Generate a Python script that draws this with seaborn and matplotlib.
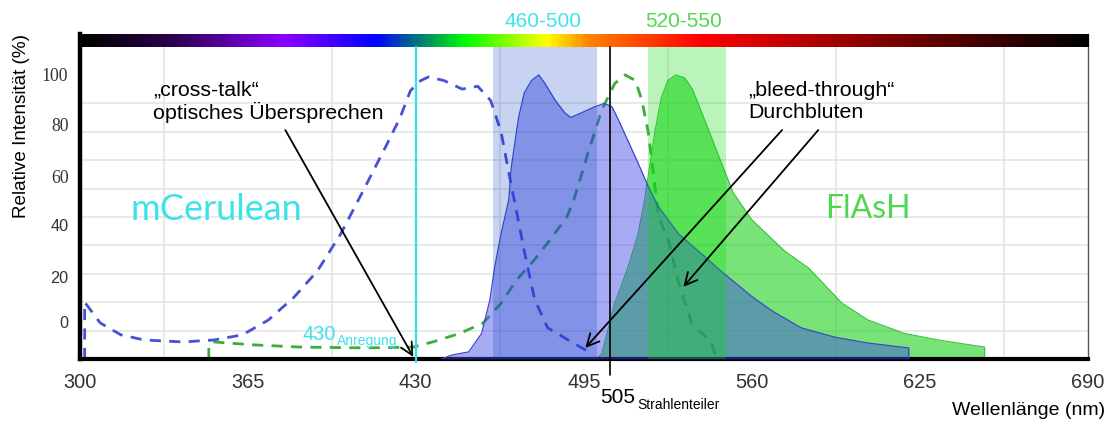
import numpy as np
import matplotlib
matplotlib.use('Agg')
import matplotlib.pyplot as plt
import seaborn as sns
from matplotlib.colors import LinearSegmentedColormap

# mCerulean Anregung (gestrichelt, blau)
ceru_ex_nm = [302, 302, 308, 316, 325, 340, 352, 363, 373, 383, 392, 401, 409, 418, 424, 428,
              432, 435, 441, 448, 454, 459, 463, 467, 469, 472, 476, 481, 489, 496, 497, 302]
ceru_ex = [0, 20, 12.7, 8.5, 6.7, 6, 6.7, 8.5, 13.7, 21.8, 31, 44, 58, 74, 85, 94.5,
           98, 99.3, 98, 95, 96, 91, 80, 61, 52, 38, 21, 11, 6.7, 3, 0, 0]

# FlAsH Anregung (gestrichelt, gruen)
flash_ex_nm = [350, 350, 352, 367, 385, 411, 429, 437, 447, 456, 463, 469, 476, 482, 488.5,
               491.5, 497, 502, 507, 511, 515, 517.5, 520, 522.5, 524, 528, 531.7, 536.7,
               544.5, 545.6, 545.6, 350]
flash_ex = [0, 5, 6, 5, 4.2, 3.9, 4.2, 6.1, 9, 12.6, 19.6, 27.8, 35, 42, 50,
            57, 73.6, 87.7, 97, 100, 98, 91, 79.6, 60.6, 50, 41, 26.8, 12.7,
            5.6, 2, 0, 0]

# mCerulean Emission (gefuellt)
ceru_em_nm = [440, 444, 450.5, 455.5, 458.7, 460.5, 463, 466, 467, 469.8, 472, 474.8, 477.6,
              480, 484, 487.7, 490, 494, 499, 503, 506, 508.5, 512, 516, 520, 524, 531.7,
              540.6, 548, 560, 567.7, 579, 592, 605, 620.7, 620.7]
ceru_em = [0, 1.4, 2.5, 9, 20.8, 32, 44, 56, 67.6, 85, 93.7, 98, 100,
           97, 91, 86.6, 85, 86.6, 88.7, 90, 88.7, 84, 77, 69, 60.6, 53.5, 44,
           37, 31, 22, 17, 11, 7.7, 5.6, 3.9, 0]

# FlAsH Emission (gefuellt)
flash_em_nm = [500, 502, 507, 512, 516, 518.5, 520.5, 522.5, 525, 527.5, 530.5, 534, 537,
               542.7, 547.8, 552.8, 560, 572.7, 582, 594.8, 605, 619, 632, 650, 650]
flash_em = [0, 2, 19.7, 32, 44, 56, 68, 80, 92, 98, 100, 99, 95,
            82, 70, 58.5, 49, 38, 32, 19.7, 13.7, 9, 6.7, 4.2, 0]

# Filterbereiche, Anregung, Strahlenteiler
blue_band = (460, 500)
green_band = (520, 550)
excitation_nm = 430
splitter_nm = 505

x_ticks = [300, 365, 430, 495, 560, 625, 690]
y_tick_pos = [13, 28.9, 47.2, 64.4, 82.4, 100]
y_tick_labels = ['0', '20', '40', '60', '80', '100']

# Farbverlauf des sichtbaren Spektrums
spec_nm = [300, 336, 378, 414, 432, 449, 480, 497, 540, 610, 690]
spec_rgb = [(0, 0, 0), (45, 0, 80), (140, 0, 255), (0, 0, 255), (0, 130, 110), (0, 255, 0),
            (255, 255, 0), (255, 130, 0), (255, 0, 0), (130, 0, 0), (0, 0, 0)]

sns.set_theme(style='white')
plt.rcParams['font.family'] = ['Liberation Sans', 'DejaVu Sans']

fig = plt.figure(figsize=(11.11, 4.21), dpi=100)
ax = fig.add_axes([79.5 / 1111, 1 - 359 / 421, (1088 - 79.5) / 1111, (359 - 34) / 421])
ytop = 114.4

# gitter
ax.set_axisbelow(True)
ax.set_xticks(np.arange(332.5, 690, 32.5), minor=True)
ax.set_yticks(np.arange(10, 110, 10), minor=True)
ax.grid(which='minor', color='#e3e3e3', lw=1.1)
ax.grid(which='major', visible=False)

dash = (0, (4, 3))
sns.lineplot(x=ceru_ex_nm, y=ceru_ex, sort=False, estimator=None, ax=ax,
             color='#4552d6', lw=2, linestyle=dash, zorder=1)
sns.lineplot(x=flash_ex_nm, y=flash_ex, sort=False, estimator=None, ax=ax,
             color='#3aad3a', lw=2, linestyle=dash, zorder=1)

ax.fill_between(flash_em_nm, 0, flash_em, color=(30 / 255, 210 / 255, 30 / 255), alpha=0.6, lw=0, zorder=2)
sns.lineplot(x=flash_em_nm, y=flash_em, sort=False, estimator=None, ax=ax,
             color='#3cbf3c', lw=0.8, zorder=2)
ax.fill_between(ceru_em_nm, 0, ceru_em, color=(60 / 255, 70 / 255, 230 / 255), alpha=0.45, lw=0, zorder=3)
sns.lineplot(x=ceru_em_nm, y=ceru_em, sort=False, estimator=None, ax=ax,
             color='#3a48c8', lw=0.9, zorder=3)

ax.axvspan(*blue_band, ymin=0, ymax=110 / ytop, color=(0, 59 / 255, 187 / 255), alpha=0.22, lw=0, zorder=4)
ax.axvspan(*green_band, ymin=0, ymax=110 / ytop, color=(0, 218 / 255, 0), alpha=0.27, lw=0, zorder=4)

ax.axvline(excitation_nm, ymin=-1.2 / ytop, ymax=110 / ytop, color='#2de3ee', lw=1.6, clip_on=False, zorder=6)
ax.axvline(splitter_nm, ymin=-5.8 / ytop, ymax=110 / ytop, color='black', lw=1.2, clip_on=False, zorder=6)

# spektrum-balken
cmap = LinearSegmentedColormap.from_list(
    'spec', [((n - 300) / 390, tuple(c / 255 for c in rgb)) for n, rgb in zip(spec_nm, spec_rgb)])
ax.imshow(np.linspace(0, 1, 600).reshape(1, -1), cmap=cmap, aspect='auto',
          extent=(300, 690, 110, ytop), zorder=5)

ax.set_xlim(300, 690)
ax.set_ylim(0, ytop)
ax.set_xticks(x_ticks)
ax.set_xticklabels([str(v) for v in x_ticks])
ax.set_yticks(y_tick_pos)
ax.set_yticklabels(y_tick_labels)
ax.tick_params(axis='x', which='major', length=0, pad=10, labelsize=14.4, labelcolor='#333333')
ax.tick_params(axis='y', which='major', length=0, pad=8, labelsize=11.7, labelcolor='#333333')
ax.tick_params(which='minor', length=0)
for lbl in ax.get_yticklabels()[3:]:
    lbl.set_fontfamily('Liberation Serif')
    lbl.set_fontsize(12.8)

ax.spines['top'].set_visible(False)
ax.spines['left'].set_linewidth(3.2)
ax.spines['left'].set_color('black')
ax.spines['bottom'].set_linewidth(3)
ax.spines['bottom'].set_color('black')
ax.spines['right'].set_linewidth(1)
ax.spines['right'].set_color('#555555')

# texte
ax.text(479.4, 116.9, '460-500', color='#3de3ea', fontsize=15, ha='center', va='baseline', clip_on=False)
ax.text(533.7, 116.9, '520-550', color='#4fd84f', fontsize=15, ha='center', va='baseline', clip_on=False)
ax.text(328.6, 90.6, '„cross-talk“\noptisches Übersprechen', fontsize=15.4, ha='left', va='center',
        linespacing=1.17, color='black', zorder=7)
ax.text(558.6, 90.6, '„bleed-through“\nDurchbluten', fontsize=15.4, ha='left', va='center',
        linespacing=1.17, color='black', zorder=7)
ax.text(319.7, 49, 'mCerulean', color='#3de3ea', fontsize=26, family='Lato', ha='left', va='baseline')
ax.text(588.4, 49.6, 'FlAsH', color='#4fd84f', fontsize=23, family='Lato', ha='left', va='baseline')
ax.text(386.2, 6.6, '430', color='#3de3ea', fontsize=14.4, ha='left', va='baseline', zorder=7)
ax.text(399.7, 5.0, 'Anregung', color='#3de3ea', fontsize=10, ha='left', va='baseline', zorder=7)
ax.text(501.4, -15.5, '505', color='black', fontsize=15, ha='left', va='baseline', clip_on=False)
ax.text(515.7, -17.6, 'Strahlenteiler', color='black', fontsize=10, ha='left', va='baseline', clip_on=False)

arrow = dict(arrowstyle='->', color='black', lw=1.3, mutation_scale=22, shrinkA=0, shrinkB=0)
ax.annotate('', xy=(429.1, 0.7), xytext=(379.6, 80.6), arrowprops=arrow, zorder=7)
ax.annotate('', xy=(495.6, 3.9), xytext=(571.7, 80.6), arrowprops=arrow, zorder=7)
ax.annotate('', xy=(533.5, 25.4), xytext=(585.7, 80.6), arrowprops=arrow, zorder=7)

fig.text(22 / 1111, 1 - 125.5 / 421, 'Relative Intensität (%)', rotation=90, ha='center', va='center',
         fontsize=13.6, color='black')
fig.text(1105 / 1111, 1 - 415 / 421, 'Wellenlänge (nm)', ha='right', va='baseline', fontsize=14, color='black')

fig.savefig('out.png', dpi=100)
